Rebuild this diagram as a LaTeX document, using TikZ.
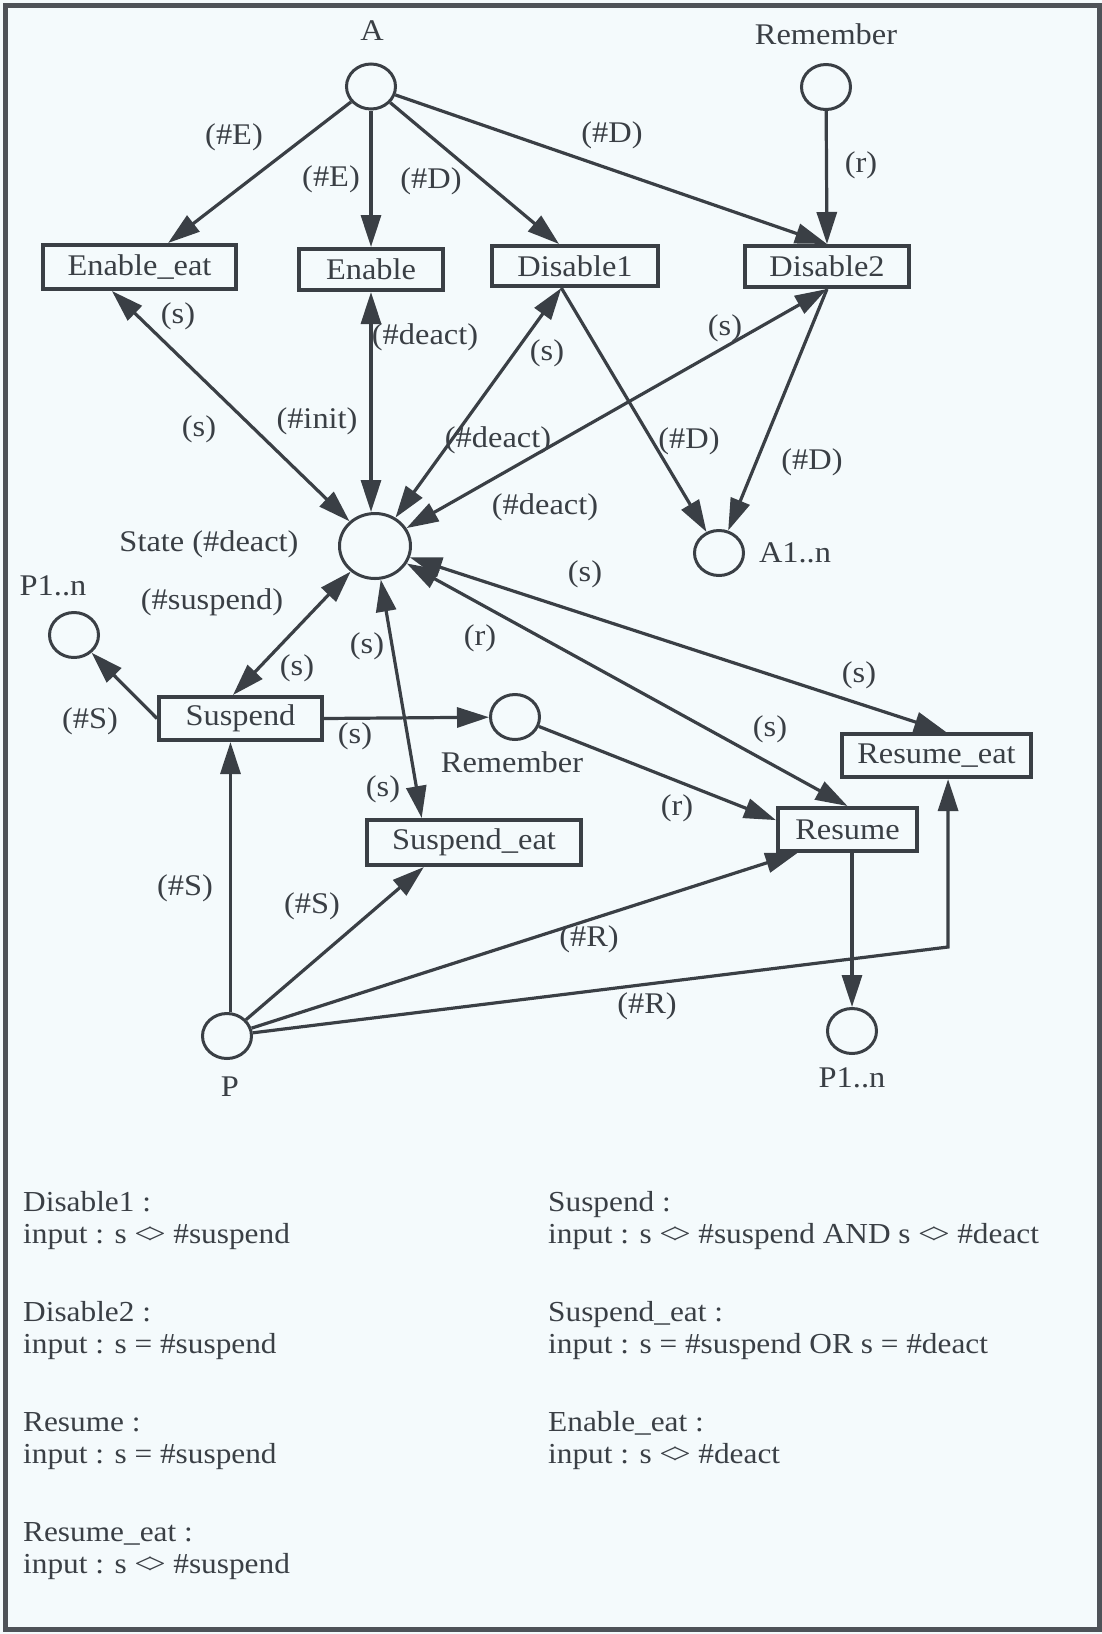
\documentclass[tikz,border=0pt]{standalone}
\usepackage{fontspec}
\setmainfont{Liberation Serif}[FakeStretch=1.08]
\usetikzlibrary{arrows.meta,shapes.geometric,calc}

\definecolor{ink}{HTML}{3A3F45}
\definecolor{paper}{HTML}{F4FAFC}
% "<>" set so that the two angle brackets close into a diamond
\newcommand{\ltgt}{<\kern-.15em>}

\begin{document}
\begin{tikzpicture}[x=1pt,y=-1pt,
  every node/.style={text=ink},
  place/.style={ellipse, draw=ink, line width=3pt, inner sep=0pt,
                minimum width=49pt, minimum height=45pt},
  bigplace/.style={place, minimum width=71pt, minimum height=65pt},
  trans/.style={rectangle, draw=ink, line width=4pt, inner sep=0pt,
                font=\fontsize{30}{36}\selectfont},
  lbl/.style={inner sep=0pt, font=\fontsize{30}{36}\selectfont},
  note/.style={inner sep=0pt, anchor=base west, font=\fontsize{29}{34}\selectfont},
  arc/.style={draw=ink, line width=3.2pt, -{Triangle[length=32pt,width=20pt]}},
  biarc/.style={draw=ink, line width=3.2pt,
                {Triangle[length=32pt,width=20pt]}-{Triangle[length=32pt,width=20pt]}}]

% page and frame
\fill[paper] (0,0) rectangle (1102,1634);
\useasboundingbox (0,0) rectangle (1102,1634);
\draw[ink!90, line width=5pt] (5,5) rectangle (1099,1629);

% places
\node[place] (A) at (371,86.5) {};
\node[place] (remtop) at (826,87) {};
\node[bigplace] (state) at (375,546) {};
\node[place] (a1n) at (719,553) {};
\node[place] (p1nl) at (74,635) {};
\node[place] (remmid) at (515,717) {};
\node[place] (P) at (227,1036) {};
\node[place] (p1nb) at (852,1031) {};

% transitions
\node[trans, minimum width=193pt, minimum height=44pt] (enableeat) at (139.5,267) {Enable\_eat};
\node[trans, minimum width=144pt, minimum height=41pt] (enable) at (371,269.5) {Enable};
\node[trans, minimum width=166pt, minimum height=40pt] (disable1) at (575,266) {Disable1};
\node[trans, minimum width=164pt, minimum height=41pt] (disable2) at (827,266.5) {Disable2};
\node[trans, minimum width=163pt, minimum height=43pt] (suspend) at (240.5,718.5) {Suspend};
\node[trans, minimum width=214pt, minimum height=45pt] (suspendeat) at (474,842.5) {Suspend\_eat};
\node[trans, minimum width=139pt, minimum height=43pt] (resume) at (847.5,829.5) {Resume};
\node[trans, minimum width=189pt, minimum height=43pt] (resumeeat) at (936.5,755.5) {Resume\_eat};

% attachment points on the transition borders
\coordinate (eetop) at ($(enableeat.north west)!0.645!(enableeat.north east)$);
\coordinate (eebot) at ($(enableeat.south west)!0.36!(enableeat.south east)$);
\coordinate (d1top) at ($(disable1.north west)!0.406!(disable1.north east)$);
\coordinate (d1bot) at ($(disable1.south west)!0.42!(disable1.south east)$);
\coordinate (sustop) at ($(suspend.north west)!0.455!(suspend.north east)$);
\coordinate (susbot) at ($(suspend.south west)!0.44!(suspend.south east)$);
\coordinate (sebtop) at ($(suspendeat.north west)!0.26!(suspendeat.north east)$);
\coordinate (sebbot) at ($(suspendeat.south west)!0.27!(suspendeat.south east)$);
\coordinate (resleft) at ($(resume.north west)!0.3!(resume.south west)$);
\coordinate (resbot) at ($(resume.south west)!0.15!(resume.south east)$);
\coordinate (retop) at ($(resumeeat.north west)!0.55!(resumeeat.north east)$);
\coordinate (rebot) at ($(resumeeat.south west)!0.56!(resumeeat.south east)$);
\coordinate (rcorner) at (rebot |- 0,947);

% arcs from A and Remember
\draw[arc] (A) -- (eetop);
\draw[arc] (A) -- (enable);
\draw[arc] (A) -- (d1top);
\draw[arc] (A) -- (disable2.north);
\draw[arc] (remtop) -- (disable2.north);

% arcs around State
\draw[biarc] (eebot) -- (state);
\draw[biarc] (enable.south) -- (enable.south |- state.north);
\draw[biarc] (d1bot) -- (state);
\draw[biarc] (disable2.south) -- (state);
\draw[arc] (d1bot) -- (a1n);
\draw[arc] (disable2.south) -- (a1n);
\draw[biarc] (sustop) -- (state);
\draw[biarc] (state) -- (sebtop);
\draw[biarc] (state) -- (resume.north);
\draw[biarc] (state) -- (retop);

% suspend / resume part
\draw[arc] (suspend.west) -- (p1nl);
\draw[arc] (suspend.east) -- (remmid);
\draw[arc] (remmid) -- (resleft);
\draw[arc] (P.north -| susbot) -- (susbot);
\draw[arc] (P) -- (sebbot);
\draw[arc] (P) -- (resbot);
\draw[arc] (P) -- (rcorner) -- (rebot);
\draw[arc] (resume.south -| p1nb) -- (p1nb);

% place names and arc inscriptions
\node[lbl] (tA) at (372,31) {A};
\node[lbl] (tRemTop) at (826,34) {Remember};
\node[lbl] (l1) at (234,137) {(\#E)};
\node[lbl] (l2) at (331,179) {(\#E)};
\node[lbl] (l3) at (431,181) {(\#D)};
\node[lbl] (l4) at (612,135) {(\#D)};
\node[lbl] (l5) at (861,165) {(r)};
\node[lbl] (l6) at (178,316) {(s)};
\node[lbl] (l7) at (425,337) {(\#deact)};
\node[lbl] (l8) at (547,353) {(s)};
\node[lbl] (l9) at (725,328) {(s)};
\node[lbl] (l10) at (199,429) {(s)};
\node[lbl] (l11) at (317,421) {(\#init)};
\node[lbl] (l12) at (498,440) {(\#deact)};
\node[lbl] (l13) at (689,441) {(\#D)};
\node[lbl] (l14) at (812,462) {(\#D)};
\node[lbl] (l15) at (545,507) {(\#deact)};
\node[lbl] (tState) at (209,544) {State (\#deact)};
\node[lbl] (tA1n) at (795,553) {A1..n};
\node[lbl] (tP1nl) at (53,586) {P1..n};
\node[lbl] (l16) at (212,602) {(\#suspend)};
\node[lbl] (l17) at (585,574) {(s)};
\node[lbl] (l18) at (480,638) {(r)};
\node[lbl] (l19) at (367,646) {(s)};
\node[lbl] (l20) at (297,668) {(s)};
\node[lbl] (l21) at (859,675) {(s)};
\node[lbl] (l22) at (90,721) {(\#S)};
\node[lbl] (l23) at (355,736) {(s)};
\node[lbl] (tRemMid) at (512,762) {Remember};
\node[lbl] (l24) at (770,729) {(s)};
\node[lbl] (l25) at (383,789) {(s)};
\node[lbl] (l26) at (677,808) {(r)};
\node[lbl] (l27) at (185,888) {(\#S)};
\node[lbl] (l28) at (312,906) {(\#S)};
\node[lbl] (l29) at (589,939) {(\#R)};
\node[lbl] (l30) at (647,1006) {(\#R)};
\node[lbl] (tP) at (230,1087) {P};
\node[lbl] (tP1nb) at (852,1078) {P1..n};

% guard conditions
\node[note] (g1a) at (23,1211) {Disable1 :};
\node[note] (g1b) at (23,1243) {input : s \ltgt{} \#suspend};
\node[note] (g2a) at (23,1321) {Disable2 :};
\node[note] (g2b) at (23,1353) {input : s = \#suspend};
\node[note] (g3a) at (23,1431) {Resume :};
\node[note] (g3b) at (23,1463) {input : s = \#suspend};
\node[note] (g4a) at (23,1541) {Resume\_eat :};
\node[note] (g4b) at (23,1573) {input : s \ltgt{} \#suspend};
\node[note] (g5a) at (548,1211) {Suspend :};
\node[note] (g5b) at (548,1243) {input : s \ltgt{} \#suspend AND s \ltgt{} \#deact};
\node[note] (g6a) at (548,1321) {Suspend\_eat :};
\node[note] (g6b) at (548,1353) {input : s = \#suspend OR s = \#deact};
\node[note] (g7a) at (548,1431) {Enable\_eat :};
\node[note] (g7b) at (548,1463) {input : s \ltgt{} \#deact};
\end{tikzpicture}
\end{document}
